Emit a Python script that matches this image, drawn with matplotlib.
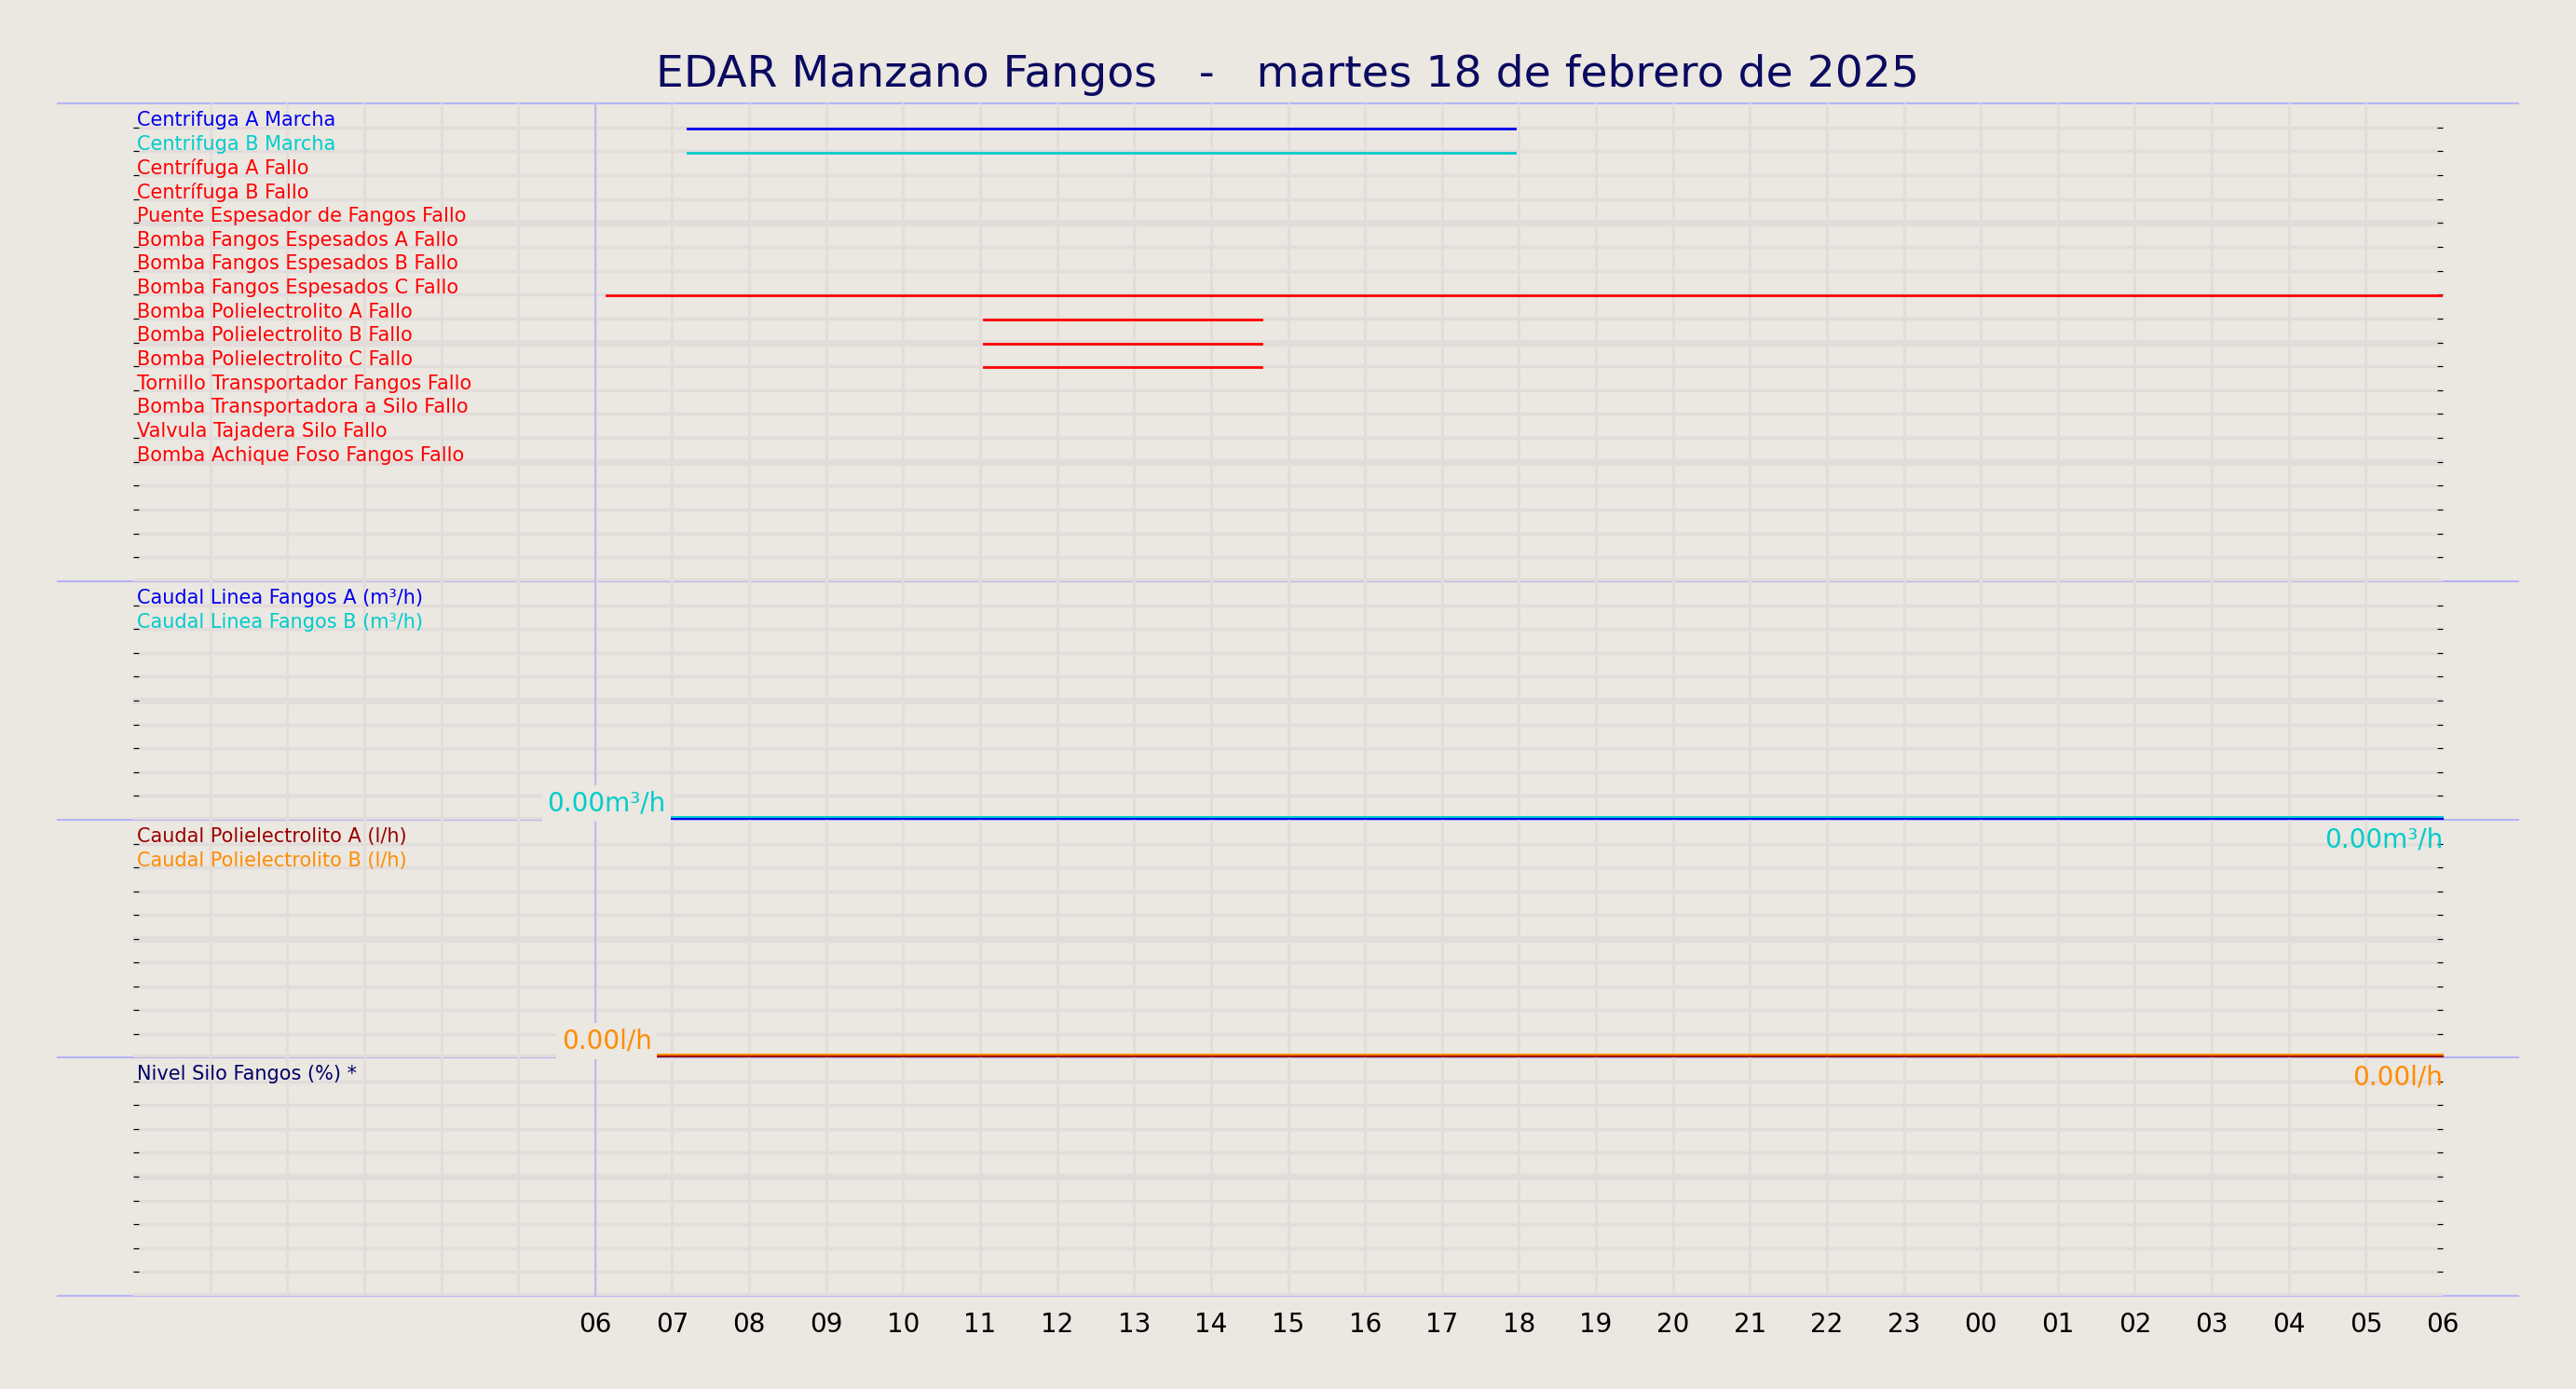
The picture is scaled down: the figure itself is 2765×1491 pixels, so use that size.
import matplotlib
matplotlib.use("Agg")
import matplotlib.pyplot as plt
from matplotlib.lines import Line2D

BG = '#ebe7e1'
GRID = '#e2dcda'
SEP = '#b4b4f5'

title = 'EDAR Manzano Fangos   -   martes 18 de febrero de 2025'

# digital signals (top panel), hours since 00:00 of the day
signal_names = ['Centrifuga A Marcha', 'Centrifuga B Marcha', 'Centrífuga A Fallo',
                'Centrífuga B Fallo', 'Puente Espesador de Fangos Fallo',
                'Bomba Fangos Espesados A Fallo', 'Bomba Fangos Espesados B Fallo',
                'Bomba Fangos Espesados C Fallo', 'Bomba Polielectrolito A Fallo',
                'Bomba Polielectrolito B Fallo', 'Bomba Polielectrolito C Fallo',
                'Tornillo Transportador Fangos Fallo', 'Bomba Transportadora a Silo Fallo',
                'Valvula Tajadera Silo Fallo', 'Bomba Achique Foso Fangos Fallo']
signal_colors = ['#0000ee', '#00cccc'] + ['#ff0000'] * 13
signal_on = [7.2, 7.2, None, None, None, None, None, 6.15, 11.05, 11.05, 11.05,
             None, None, None, None]
signal_off = [17.95, 17.95, None, None, None, None, None, 30.0, 14.65, 14.65, 14.65,
              None, None, None, None]

# analog panels
flow_names = ['Caudal Linea Fangos A (m³/h)', 'Caudal Linea Fangos B (m³/h)']
flow_colors = ['#0000ee', '#00cccc']
flow_values = [0.0, 0.0]
poly_names = ['Caudal Polielectrolito A (l/h)', 'Caudal Polielectrolito B (l/h)']
poly_colors = ['#990000', '#ff8c00']
poly_values = [0.0, 0.0]
silo_names = ['Nivel Silo Fangos (%) *']
silo_colors = ['#000066']

data_start = 6.0
x_min, x_max = 0, 30
hour_ticks = list(range(6, 31))
hour_labels = ['%02d' % (h % 24) for h in hour_ticks]

fig = plt.figure(figsize=(27.65, 14.91), dpi=100, facecolor=BG)
L, W = 143 / 2765, (2622 - 143) / 2765
edges = [111, 624, 880, 1135, 1391]
rows = [20, 10, 10, 10]
axes = []
for i in range(4):
    top, bot = edges[i], edges[i + 1]
    ax = fig.add_axes([L, 1 - bot / 1491, W, (bot - top) / 1491])
    ax.set_zorder(10 - i)
    ax.set_facecolor('none')
    ax.set_xlim(x_min, x_max)
    ax.set_ylim(rows[i], 0)
    for s in ax.spines.values():
        s.set_visible(False)
    for h in range(x_min + 1, x_max):
        ax.axvline(h, color=GRID, lw=2, zorder=0)
    for r in range(1, rows[i] + 1):
        ax.axhline(r, color=GRID, lw=5 if r % 5 == 0 else 2.5, zorder=0)
    ax.set_yticks(range(1, rows[i]))
    ax.tick_params(axis='y', direction='in', length=4, labelleft=False,
                   right=True, left=True, color='black')
    ax.set_xticks(hour_ticks)
    ax.tick_params(axis='x', length=0, labelsize=20, pad=12,
                   labelbottom=(i == 3))
    ax.set_xticklabels(hour_labels)
    ax.axvline(data_start, color=SEP, lw=1.2, zorder=1)
    axes.append(ax)

for y in edges:
    fig.add_artist(Line2D([62 / 2765, 2703 / 2765], [1 - y / 1491] * 2,
                          color=SEP, lw=1.5))

fig.text(0.5, 0.946, title, ha='center', va='center', fontsize=34, color='#0a0a60')

# top panel
ax = axes[0]
for i, name in enumerate(signal_names):
    ax.text(0.05, i + 0.72, name, color=signal_colors[i], fontsize=15, va='center')
    if signal_on[i] is not None:
        ax.plot([signal_on[i], signal_off[i]], [i + 1.05] * 2,
                color=signal_colors[i], lw=2)


def analog(ax, names, colors, values, unit, nrows, label_x):
    for i, name in enumerate(names):
        ax.text(0.05, i + 0.72, name, color=colors[i], fontsize=15, va='center')
    for k, (c, v) in enumerate(zip(colors, values)):
        ax.plot([data_start, x_max], [nrows - v - 0.03 - 0.08 * k] * 2, color=c,
                lw=1.5, zorder=3, clip_on=False)
    last = colors[-1]
    ax.text(label_x, nrows - 0.15, '%.2f%s' % (values[-1], unit), color=last,
            fontsize=20, ha='center', va='bottom', zorder=5,
            bbox=dict(facecolor=BG, edgecolor='none', pad=4))
    ax.text(x_max, nrows + 0.3, '%.2f%s' % (values[-1], unit), color=last,
            fontsize=20, ha='right', va='top', zorder=5, clip_on=False)


analog(axes[1], flow_names, flow_colors, flow_values, 'm³/h', 10, 6.15)
analog(axes[2], poly_names, poly_colors, poly_values, 'l/h', 10, 6.15)
for i, name in enumerate(silo_names):
    axes[3].text(0.05, i + 0.72, name, color=silo_colors[i], fontsize=15, va='center')

fig.savefig('out.png', dpi=100, facecolor=BG)
